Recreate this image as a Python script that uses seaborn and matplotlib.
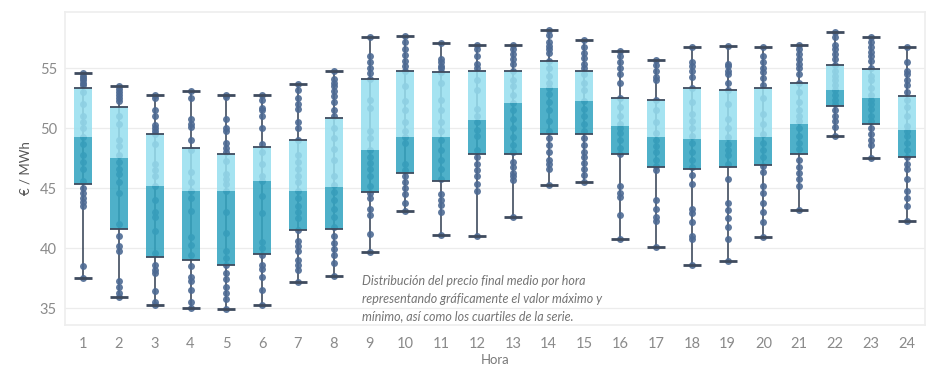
import numpy as np
import pandas as pd
import seaborn as sns
import matplotlib.pyplot as plt

# hours on the x axis
horas = [str(h) for h in range(1, 25)]

# box statistics (EUR/MWh)
minimos = [37.5, 35.9, 35.25, 35.05, 34.95, 35.25, 37.2, 37.7, 39.7, 43.1, 41.1, 41.0,
           42.6, 45.3, 45.5, 40.75, 40.1, 38.6, 38.9, 40.9, 43.2, 49.4, 47.55, 42.25]
q1 = [45.4, 41.6, 39.25, 39.0, 38.6, 39.5, 41.5, 41.6, 44.7, 46.3, 45.65, 47.85,
      47.9, 49.5, 49.5, 47.9, 46.75, 46.6, 46.75, 46.95, 47.9, 51.9, 50.4, 47.6]
medianas = [49.3, 47.5, 45.2, 44.8, 44.8, 45.6, 44.8, 45.1, 48.2, 49.25, 49.25, 50.7,
            52.1, 53.4, 52.3, 50.2, 49.25, 49.1, 49.0, 49.25, 50.4, 53.2, 52.5, 49.9]
q3 = [53.4, 51.8, 49.5, 48.4, 47.9, 48.45, 49.0, 50.9, 54.1, 54.8, 54.7, 54.8,
      54.8, 55.6, 54.8, 52.5, 52.4, 53.4, 53.2, 53.4, 53.75, 55.3, 54.95, 52.7]
maximos = [54.6, 53.5, 52.8, 53.1, 52.8, 52.8, 53.7, 54.8, 57.6, 57.7, 57.1, 57.0,
           57.0, 58.2, 57.4, 56.45, 55.7, 56.8, 56.9, 56.75, 57.0, 58.05, 57.6, 56.8]

# daily values per hour (estimated from the dots)
puntos = {
    "1": [54.6, 54.4, 54.2, 54.0, 53.8, 53.6, 53.0, 52.0, 51.0, 50.5, 50.0, 49.3, 48.7, 47.8,
          47.2, 46.6, 45.6, 45.0, 44.6, 44.2, 43.9, 43.5, 38.5, 37.5],
    "2": [53.5, 53.3, 53.0, 52.8, 52.5, 52.3, 51.0, 50.4, 49.0, 48.5, 47.8, 47.2, 46.6, 46.2,
          45.5, 44.6, 42.0, 41.0, 40.2, 39.8, 37.3, 36.8, 36.3, 35.9],
    "3": [52.8, 52.5, 51.5, 51.0, 50.3, 50.0, 49.8, 49.5, 48.7, 47.0, 46.5, 46.0, 45.2, 44.0,
          43.0, 42.6, 41.4, 39.6, 38.6, 38.2, 37.9, 36.4, 35.5, 35.25],
    "4": [53.1, 52.5, 50.8, 50.4, 50.1, 49.0, 48.2, 46.4, 45.5, 44.8, 44.2, 43.1, 40.9, 40.3,
          39.4, 38.5, 37.6, 37.3, 36.5, 35.5, 35.05],
    "5": [52.8, 52.6, 50.8, 50.0, 49.8, 48.8, 48.4, 48.0, 47.3, 46.2, 45.8, 45.4, 44.8, 43.0,
          41.3, 39.8, 39.2, 38.6, 37.9, 37.4, 36.8, 36.3, 35.8, 34.95],
    "6": [52.8, 52.4, 51.7, 51.5, 51.0, 50.0, 48.7, 48.0, 47.0, 46.0, 45.6, 44.4, 42.9, 40.5,
          40.0, 39.4, 38.6, 38.3, 37.6, 36.5, 35.25],
    "7": [53.7, 53.2, 52.5, 52.0, 51.6, 50.5, 50.0, 49.0, 47.8, 47.2, 46.6, 46.0, 45.5, 44.8,
          44.2, 43.5, 43.0, 42.5, 41.5, 40.6, 40.2, 39.8, 39.0, 38.6, 38.2, 37.2],
    "8": [54.8, 54.1, 53.8, 53.5, 53.1, 52.7, 52.2, 51.5, 51.0, 50.0, 49.2, 48.3, 47.4, 46.0,
          45.3, 44.7, 44.0, 43.3, 42.6, 41.8, 41.0, 40.4, 39.9, 39.4, 38.8, 37.7],
    "9": [57.6, 56.0, 55.5, 55.0, 54.6, 54.1, 52.4, 51.7, 49.8, 49.2, 48.2, 47.6, 47.1, 46.6,
          46.0, 45.2, 44.6, 44.2, 43.3, 42.8, 41.2, 39.7],
    "10": [57.7, 57.2, 56.6, 56.1, 55.6, 55.2, 54.8, 53.5, 52.3, 51.5, 50.5, 49.8, 49.3, 48.8,
           47.0, 46.5, 46.0, 45.5, 45.0, 44.5, 43.8, 43.1],
    "11": [57.1, 55.8, 55.5, 55.2, 55.0, 54.7, 53.8, 52.4, 51.5, 50.5, 49.8, 49.0, 48.2, 47.4,
           46.6, 45.8, 44.5, 44.0, 43.6, 43.0, 41.1],
    "12": [57.0, 56.6, 56.0, 55.4, 55.0, 54.0, 53.2, 51.6, 51.0, 50.5, 49.9, 49.4, 48.2, 47.6,
           47.0, 46.5, 46.0, 45.4, 44.8, 41.0],
    "13": [57.0, 56.6, 56.2, 55.8, 55.4, 54.8, 54.0, 53.5, 52.8, 52.1, 51.5, 50.8, 50.0, 49.3,
           48.6, 48.0, 47.2, 46.8, 46.3, 46.0, 45.7, 42.6],
    "14": [58.2, 57.8, 57.2, 56.9, 56.6, 56.3, 55.6, 55.0, 54.4, 53.8, 53.4, 52.9, 52.2, 51.5,
           50.6, 49.8, 49.2, 48.6, 48.0, 47.4, 47.0, 46.6, 45.3],
    "15": [57.4, 56.8, 56.3, 55.9, 55.4, 55.0, 54.5, 53.8, 53.2, 52.3, 51.6, 51.0, 50.4, 49.8,
           49.2, 48.6, 48.0, 47.6, 47.1, 46.6, 46.1, 45.5],
    "16": [56.45, 56.0, 55.5, 55.0, 54.5, 53.8, 52.5, 51.8, 51.0, 50.4, 50.0, 49.6, 49.0, 48.4,
           47.9, 45.2, 44.6, 44.3, 42.8, 40.75],
    "17": [55.7, 55.3, 54.8, 54.3, 54.0, 52.4, 51.5, 50.5, 49.6, 49.0, 48.5, 48.0, 47.4, 46.9,
           46.5, 44.0, 43.3, 42.6, 42.3, 40.1],
    "18": [56.8, 55.5, 55.2, 54.8, 54.3, 53.4, 52.2, 51.2, 50.6, 50.0, 49.4, 48.8, 48.0, 47.4,
           46.8, 46.1, 45.4, 43.3, 42.9, 42.2, 41.0, 40.8, 38.6],
    "19": [56.9, 55.4, 55.2, 54.8, 54.5, 53.8, 53.2, 52.0, 50.8, 50.0, 49.3, 48.7, 48.2, 47.8,
           47.0, 45.8, 43.8, 43.2, 42.5, 41.8, 40.8, 38.9],
    "20": [56.75, 56.0, 55.5, 55.0, 54.7, 54.2, 53.6, 52.5, 51.2, 50.4, 49.5, 48.8, 48.2, 47.6,
           46.9, 46.4, 45.2, 44.6, 43.8, 43.0, 42.2, 40.9],
    "21": [57.0, 56.6, 56.2, 55.8, 55.4, 55.0, 54.5, 53.75, 53.0, 52.2, 51.5, 51.0, 50.6, 50.0,
           49.4, 48.8, 48.3, 47.4, 46.8, 46.3, 45.8, 45.2, 43.2],
    "22": [58.05, 57.6, 57.0, 56.6, 56.2, 55.8, 55.3, 54.8, 54.4, 54.0, 53.6, 53.2, 52.8, 52.4,
           52.0, 51.5, 51.0, 50.6, 50.1, 49.4],
    "23": [57.6, 57.2, 56.8, 56.4, 56.0, 55.6, 55.0, 54.4, 54.0, 53.4, 52.8, 52.4, 52.0, 51.6,
           51.0, 50.6, 50.0, 49.5, 49.0, 48.6, 47.55],
    "24": [56.8, 55.5, 54.8, 54.5, 54.0, 53.6, 53.0, 52.4, 51.8, 51.0, 50.2, 49.8, 49.4, 48.8,
           48.2, 47.6, 47.0, 46.6, 45.8, 44.8, 44.2, 43.5, 42.25],
}

nota = ("Distribución del precio final medio por hora\n"
        "representando gráficamente el valor máximo y\n"
        "mínimo, así como los cuartiles de la serie.")

df = pd.DataFrame([(h, v) for h in horas for v in puntos[h]], columns=["hora", "precio"])

sns.set_theme(style="white")
plt.rcParams["font.family"] = ["Lato", "DejaVu Sans"]

fig = plt.figure(figsize=(9.32, 3.68), dpi=100)
ax = fig.add_axes([0.07, 0.117, 0.922, 0.85])

pos = np.arange(len(horas))
w = 0.5
line_col = "#3f4b5e"

# whiskers behind everything
ax.vlines(pos, minimos, maximos, color=line_col, lw=1.2, zorder=1)

# daily points
sns.stripplot(data=df, x="hora", y="precio", order=horas, jitter=False,
              color="#4d6a93", size=5, alpha=0.9, linewidth=0, zorder=2, ax=ax)

# two-tone boxes over the points
lower = np.array(medianas) - np.array(q1)
upper = np.array(q3) - np.array(medianas)
ax.bar(pos, lower, bottom=q1, width=w, color="#34a5c1", alpha=0.87, lw=0, zorder=3)
ax.bar(pos, upper, bottom=medianas, width=w, color="#98dfef", alpha=0.87, lw=0, zorder=3)

# box edges and caps
ax.hlines(q1, pos - w / 2, pos + w / 2, color=line_col, lw=1.3, zorder=4)
ax.hlines(q3, pos - w / 2, pos + w / 2, color=line_col, lw=1.3, zorder=4)
ax.hlines(minimos, pos - w / 2, pos + w / 2, color=line_col, lw=2, zorder=4)
ax.hlines(maximos, pos - w / 2, pos + w / 2, color=line_col, lw=2, zorder=4)

ax.text(7.8, 37.75, nota, fontsize=9, style="italic", color="#747474",
        va="top", ha="left", linespacing=1.55, zorder=5)

ax.set_xlim(-0.5, 23.5)
ax.set_ylim(33.6, 59.7)
ax.set_yticks([35, 40, 45, 50, 55])
ax.yaxis.grid(True, color="#ececec", lw=0.9)
ax.set_axisbelow(True)
for s in ax.spines.values():
    s.set_color("#eeeeee")
ax.tick_params(axis="both", length=0, labelsize=10.5, labelcolor="#8a8a8a", pad=9)
ax.tick_params(axis="y", pad=6)
ax.set_xlabel("Hora", fontsize=9.5, color="#7a7a7a", labelpad=2)
ax.set_ylabel("€ / MWh", fontsize=9.5, color="#555555", labelpad=6)

fig.savefig("out.png", dpi=100)
